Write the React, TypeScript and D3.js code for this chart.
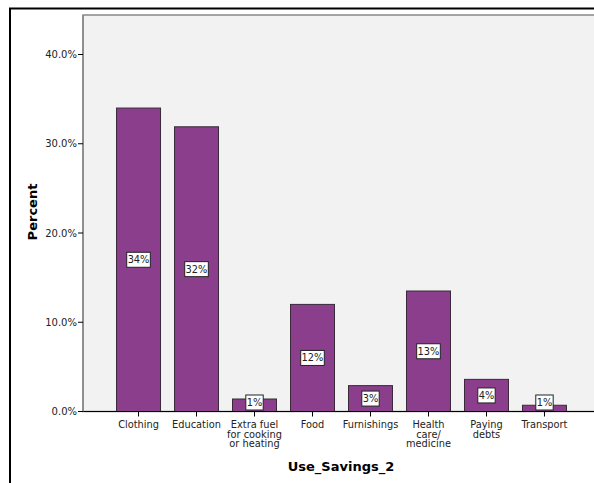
import React from "react";
import * as d3 from "d3";

const categories = ["Clothing", "Education", "Extra fuel\nfor cooking\nor heating", "Food", "Furnishings", "Health\ncare/\nmedicine", "Paying\ndebts", "Transport"];
const values = [34.0, 31.9, 1.4, 12.0, 2.9, 13.5, 3.6, 0.7];
const valueLabels = ["34%", "32%", "1%", "12%", "3%", "13%", "4%", "1%"];
const yTicks = [0, 10, 20, 30, 40];

export default function App() {
  const W = 594, H = 483;
  const left = 83, right = 600, top = 15, bottom = 411.5;
  const y = d3.scaleLinear().domain([0, 40]).range([bottom, 54.5]);
  const x = d3.scaleBand<string>().domain(categories).range([left, right]).paddingInner(0.2414).paddingOuter(0.578);
  const bw = x.bandwidth();
  const fmt = (v: number) => d3.format(".1f")(v) + "%";
  return (
    <svg width={W} height={H} style={{ position: "absolute", left: 0, top: 0, background: "#fff" }}>
      <rect x={10} y={8.5} width={W + 20} height={H + 20} fill="#fff" stroke="#000" strokeWidth={2} />
      <rect x={left} y={top} width={right - left} height={bottom - top} fill="#f2f2f2" stroke="#888" strokeWidth={1.5} />
      {categories.map((c, i) => {
        const x0 = x(c)!;
        const yt = y(values[i]);
        const mid = Math.min((yt + bottom) / 2, 402.5);
        const lw = valueLabels[i].length * 6.2 + 5;
        return (
          <g key={c}>
            <rect x={x0} y={yt} width={bw} height={bottom - yt} fill="#8b3e8c" stroke="#3a2a3a" strokeWidth={1} />
            <rect x={x0 + bw / 2 - lw / 2} y={mid - 7.5} width={lw} height={15} fill="#fff" stroke="#222" strokeWidth={1} />
            <text x={x0 + bw / 2} y={mid + 3.5} textAnchor="middle" fontFamily="DejaVu Sans" fontSize={9.8} fill="#222">{valueLabels[i]}</text>
          </g>
        );
      })}
      <line x1={left} x2={right} y1={bottom} y2={bottom} stroke="#000" strokeWidth={1} />
      <line x1={left} x2={left} y1={top} y2={bottom} stroke="#888" strokeWidth={1.5} />
      {categories.map((c) => {
        const cx = x(c)! + bw / 2;
        const lines = c.split("\n");
        return (
          <g key={"t" + c}>
            <line x1={cx} x2={cx} y1={bottom} y2={bottom + 5} stroke="#000" />
            <text x={cx} y={428} textAnchor="middle" fontFamily="DejaVu Sans" fontSize={9.8} fill="#222">
              {lines.map((l, j) => (
                <tspan key={j} x={cx} dy={j === 0 ? 0 : 9.5}>{l}</tspan>
              ))}
            </text>
          </g>
        );
      })}
      {yTicks.map((t) => (
        <g key={t}>
          <line x1={left - 5} x2={left} y1={y(t)} y2={y(t)} stroke="#000" />
          <text x={left - 6} y={y(t) + 3.5} textAnchor="end" fontFamily="DejaVu Sans" fontSize={10} fill="#222">{fmt(t)}</text>
        </g>
      ))}
      <text transform={`translate(36.5, 212) rotate(-90)`} textAnchor="middle" fontFamily="DejaVu Sans" fontWeight="bold" fontSize={13} fill="#000">Percent</text>
      <text x={341} y={470.5} textAnchor="middle" fontFamily="DejaVu Sans" fontWeight="bold" fontSize={13} fill="#000">Use_Savings_2</text>
    </svg>
  );
}
